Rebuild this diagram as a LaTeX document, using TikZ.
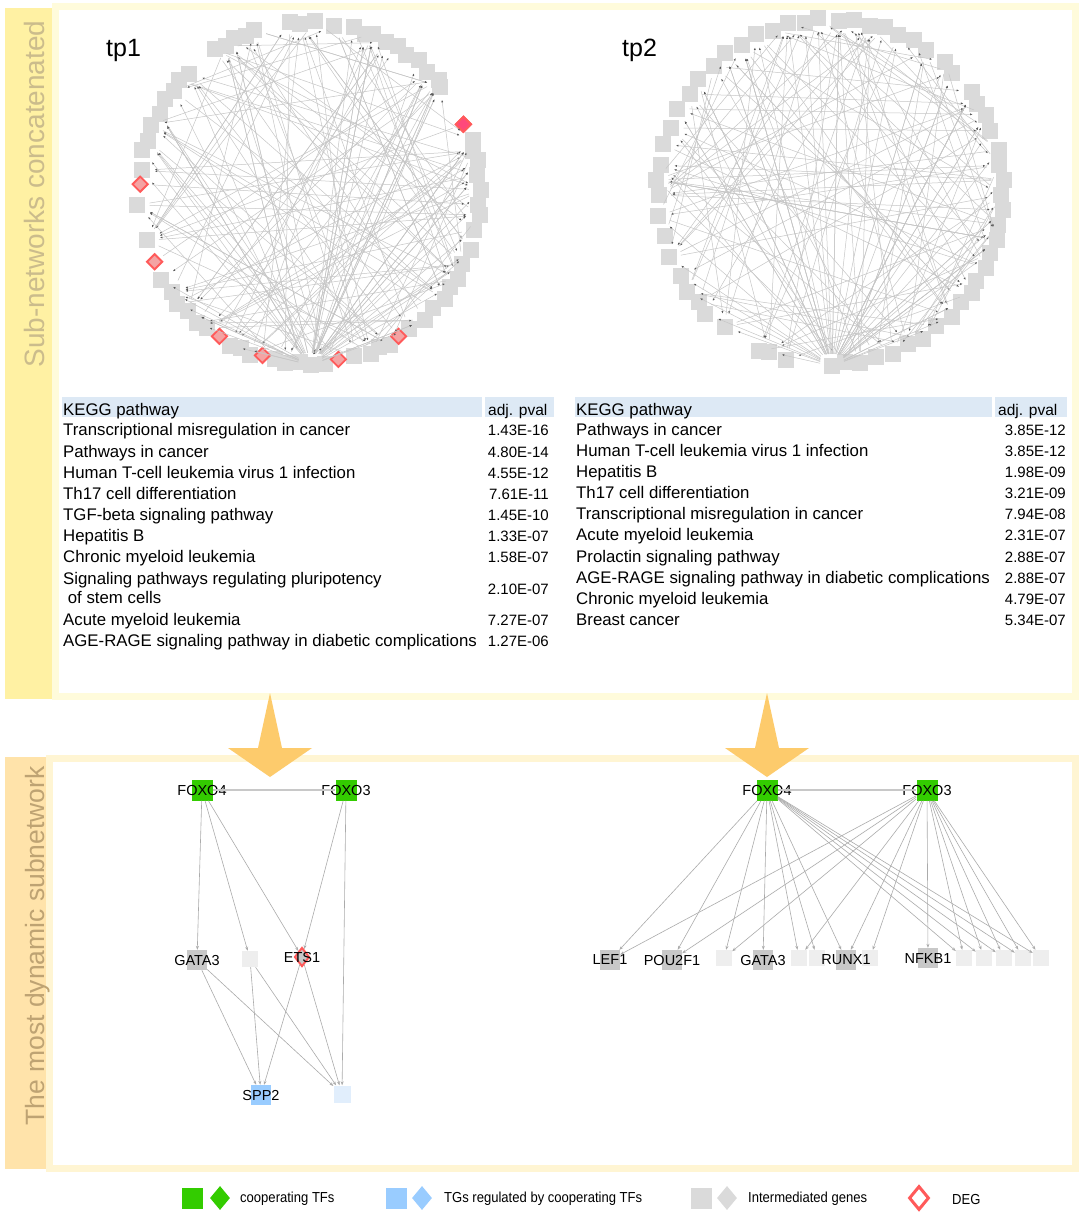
\documentclass[tikz,border=0pt]{standalone}
\usepackage{fontspec}
\setmainfont{Liberation Sans}
\newfontfamily\legendfont[FakeStretch=0.9]{Liberation Sans}
\usetikzlibrary{arrows.meta,shapes.geometric}

\definecolor{tfgreen}{HTML}{33CC00}
\definecolor{tgblue}{HTML}{99CCFF}
\definecolor{tgpale}{HTML}{E1EEFC}
\definecolor{midgray}{HTML}{C8C8C8}
\definecolor{ringgray}{HTML}{DADADA}
\definecolor{blankgray}{HTML}{EEEEEE}
\definecolor{degred}{HTML}{FF5A5A}
\definecolor{degfill}{HTML}{F4A3A3}
\definecolor{hdrblue}{HTML}{DDE9F5}
\definecolor{barA}{HTML}{FFF1A3}
\definecolor{frameA}{HTML}{FFFBDB}
\definecolor{barB}{HTML}{FFE3AA}
\definecolor{frameB}{HTML}{FFF5D3}
\definecolor{sideA}{HTML}{CBBC8C}
\definecolor{sideB}{HTML}{BEA373}
\definecolor{bigarrow}{HTML}{FDCB6C}
\definecolor{linkgray}{HTML}{C6C6C6}
\definecolor{arcgray}{HTML}{ABABAB}

\begin{document}
\begin{tikzpicture}[x=1pt,y=-1pt,
   every node/.style={inner sep=0pt},
   every label/.style={font=\fontsize{14.5}{16}\selectfont, text=black},
   ringsq/.style={rectangle, fill=ringgray, minimum size=16pt},
   ringdeg/.style={diamond, fill=degfill, draw=degred, line width=1.8pt, minimum size=16pt},
   link/.style={linkgray, line width=0.5pt, shorten <=4pt, shorten >=5pt,
                -{Latex[length=2.5pt,width=2pt,color=gray!70!black]}},
   arc/.style={arcgray, line width=0.6pt, -{Stealth[length=4pt,width=3pt]}},
   tfline/.style={midgray, line width=1.5pt},
   tfsq/.style={rectangle, fill=tfgreen, minimum size=21pt},
   tgsq/.style={rectangle, fill=tgblue, minimum size=20pt},
   tgpalesq/.style={rectangle, fill=tgpale, minimum size=17pt},
   midsq/.style={rectangle, fill=midgray, minimum size=20pt},
   blanksq/.style={rectangle, fill=blankgray, minimum size=16pt},
   degdia/.style={diamond, fill=midgray, draw=degred, line width=2pt, minimum width=15pt, minimum height=19pt},
   tplabel/.style={anchor=base west, font=\fontsize{25}{28}\selectfont},
   sidelabel/.style={rotate=90},
   rowtxt/.style={anchor=base west, font=\fontsize{16.8}{18}\selectfont},
   pvtxt/.style={anchor=base east, font=\fontsize{15}{17}\selectfont},
   legtxt/.style={anchor=west, font=\legendfont\fontsize{14.5}{16}\selectfont}]

\fill[white] (0,0) rectangle (1084,1218);
\useasboundingbox (0,0) rectangle (1084,1218);

% panels
\fill[frameA] (52,3) rectangle (1079,700);
\fill[white] (59,10) rectangle (1072,693);
\fill[barA] (5,8) rectangle (52,699);
\node[sidelabel, text=sideA, font=\fontsize{28}{30}\selectfont] (sideA) at (34.5,194) {Sub-networks concatenated};

\fill[frameB] (46,755) rectangle (1079,1172);
\fill[white] (53,762) rectangle (1072,1165);
\fill[barB] (5,757) rectangle (46,1169);
\node[sidelabel, text=sideB, font=\fontsize{26.5}{28}\selectfont] (sideB) at (38,946) {The most dynamic subnetwork};

% tp1 ring
\node[tplabel] (tpA) at (106,56) {tp1};
\coordinate (ca) at (309,193);
\foreach \ang [count=\i] in {263.5,267,272,278.6,285,289.5,292,297,301,305,309.6,314.5,319,321,
    342,345.6,349,354,359,4,7.4,12.5,19.5,24.8,30,33.6,38,43,47.6,53.6,62,65.7,69,74.4,
    84.7,93,98,101.5,110,113.7,117.5,127,130.8,135.5,140,144,149.7,163.7,176,187.7,194.5,
    198,203.4,208,213,217,221,224.8,236.7,240.4,244,248,251.4}{
  \pgfmathsetmacro\rr{169+3*mod(\i,2)}
  \node[ringsq] (a\i) at ([shift={(\ang:\rr)}]ca) {};
}
\node[ringsq] (ahub) at ([shift={(89.5:172)}]ca) {};
\foreach \ang [count=\j] in {336,183,156,122,106,80,58}
  \node[ringdeg] (da\j) at ([shift={(\ang:169)}]ca) {};
\node[ringdeg, fill=degred!80!magenta] at (da1) {};

\pgfmathsetseed{3}
\foreach \k in {1,...,105}{
  \pgfmathrandominteger{\u}{1}{63}
  \pgfmathrandominteger{\w}{10}{53}
  \pgfmathtruncatemacro{\v}{mod(\u+\w-1,63)+1}
  \draw[link] (a\u) -- (a\v);
}
\foreach \k in {1,...,48}{
  \pgfmathrandominteger{\u}{1}{63}
  \ifnum\u>30 \ifnum\u<40 \pgfmathtruncatemacro{\u}{\u-25}\fi\fi
  \draw[link] (ahub) -- (a\u);
}
\foreach \j/\i in {2/20,3/12,4/8,5/2,6/52,7/58,1/48}
  \draw[link] (da\j) -- (a\i);

% tp2 ring
\node[tplabel] (tpB) at (622,56) {tp2};
\coordinate (cb) at (830,192);
\foreach \ang [count=\i] in {256,261.5,266,273,278,283.5,288.5,293.6,299,304,311.5,315.7,324.9,
    329,333.6,339,346,351,356,1,6,11,16,21,26,31.5,35.4,40,45.7,51.7,57.8,63,68.8,74.5,80,85,
    104.8,111,114,128,135.7,140,145,150.5,157.9,165,172,179,184,189,196,202,208.6,215,220.6,
    227.4,232.9,239,245,250.6}{
  \pgfmathsetmacro\rr{171+3*mod(\i,2)}
  \node[ringsq] (b\i) at ([shift={(\ang:\rr)}]cb) {};
}
\node[ringsq] (bhub) at ([shift={(89.3:174)}]cb) {};
\pgfmathsetseed{17}
\foreach \k in {1,...,105}{
  \pgfmathrandominteger{\u}{1}{60}
  \pgfmathrandominteger{\w}{10}{50}
  \pgfmathtruncatemacro{\v}{mod(\u+\w-1,60)+1}
  \draw[link] (b\u) -- (b\v);
}
\foreach \k in {1,...,50}{
  \pgfmathrandominteger{\u}{1}{60}
  \ifnum\u>32 \ifnum\u<38 \pgfmathtruncatemacro{\u}{\u-20}\fi\fi
  \draw[link] (bhub) -- (b\u);
}

% KEGG tables
\fill[hdrblue] (62,397) rectangle (482,417);
\fill[hdrblue] (485,397) rectangle (554,417);
\node[rowtxt] (hA) at (63,415) {KEGG pathway};
\node[rowtxt, font=\fontsize{15.5}{17}\selectfont] (hpA) at (488,415) {adj. pval};
\foreach \y/\txt [count=\i] in {435/Transcriptional misregulation in cancer,
    457/Pathways in cancer, 478/Human T-cell leukemia virus 1 infection,
    499/Th17 cell differentiation, 520/TGF-beta signaling pathway,
    541/Hepatitis B, 562/Chronic myeloid leukemia,
    584/Signaling pathways regulating pluripotency, 603/\ of stem cells,
    625/Acute myeloid leukemia, 646/AGE-RAGE signaling pathway in diabetic complications}
  \node[rowtxt] (ta\i) at (63,\y) {\txt};
\foreach \y/\pv [count=\i] in {435/1.43E-16, 457/4.80E-14, 478/4.55E-12, 499/7.61E-11,
    520/1.45E-10, 541/1.33E-07, 562/1.58E-07, 594/2.10E-07, 625/7.27E-07, 646/1.27E-06}
  \node[pvtxt] (pa\i) at (549,\y) {\pv};

\fill[hdrblue] (575,397) rectangle (992,417);
\fill[hdrblue] (995,397) rectangle (1067,417);
\node[rowtxt] (hB) at (576,415) {KEGG pathway};
\node[rowtxt, font=\fontsize{15.5}{17}\selectfont] (hpB) at (998,415) {adj. pval};
\foreach \y/\txt/\pv [count=\i] in {435/Pathways in cancer/3.85E-12,
    456/Human T-cell leukemia virus 1 infection/3.85E-12,
    477/Hepatitis B/1.98E-09, 498/Th17 cell differentiation/3.21E-09,
    519/Transcriptional misregulation in cancer/7.94E-08,
    540/Acute myeloid leukemia/2.31E-07, 562/Prolactin signaling pathway/2.88E-07,
    583/AGE-RAGE signaling pathway in diabetic complications/2.88E-07,
    604/Chronic myeloid leukemia/4.79E-07, 625/Breast cancer/5.34E-07}{
  \node[rowtxt] (tb\i) at (576,\y) {\txt};
  \node[pvtxt] (pb\i) at (1066,\y) {\pv};
}

% arrows between panels
\fill[bigarrow] (270,693) -- (282,748) -- (312,748) -- (270,777) -- (228,748) -- (258,748) -- cycle;
\fill[bigarrow] (767,693) -- (779,748) -- (809,748) -- (767,777) -- (725,748) -- (755,748) -- cycle;

% most dynamic subnetwork, tp1
\node[blanksq] (lb1) at (250,959) {};
\node[tgpalesq] (lb2) at (342,1094) {};
\node[tfsq, label=center:FOXO4] (lf4) at (202,790) {};
\node[tfsq, label=center:FOXO3] (lf3) at (346,790) {};
\node[midsq, label=center:GATA3] (lga) at (197,960) {};
\node[degdia, label=center:ETS1] (lets) at (302,957) {};
\node[tgsq, label=center:SPP2] (lspp) at (261,1095) {};
\draw[tfline] (lf4) -- (lf3);
\foreach \s/\t in {lf4/lga, lf4/lb1, lf4/lets, lf3/lets, lf3/lb2, lga/lspp, lga/lb2,
    lb1/lspp, lb1/lb2, lets/lspp, lets/lb2}
  \draw[arc] (\s) -- (\t);

% most dynamic subnetwork, tp2
\foreach \n/\x in {rb1/724, rb2/799, rb3/817, rb4/870, rb5/964, rb6/984, rb7/1004, rb8/1023, rb9/1041}
  \node[blanksq] (\n) at (\x,958) {};
\node[tfsq, label=center:FOXO4] (rf4) at (767,790) {};
\node[tfsq, label=center:FOXO3] (rf3) at (927,790) {};
\node[midsq, label=center:LEF1] (rlef) at (610,960) {};
\node[midsq, label=center:POU2F1] (rpou) at (672,960) {};
\node[midsq, label=center:GATA3] (rga) at (763,960) {};
\node[midsq, label=center:RUNX1] (rrun) at (846,960) {};
\node[midsq, label=center:NFKB1] (rnfk) at (928,958) {};
\draw[tfline] (rf4) -- (rf3);
\foreach \t in {rlef, rpou, rb1, rga, rb2, rb3, rrun, rb5, rb6, rb7, rb8, rb9}
  \draw[arc] (rf4) -- (\t);
\foreach \t in {rlef, rpou, rb1, rb2, rrun, rb4, rnfk, rb5, rb6, rb7, rb8, rb9}
  \draw[arc] (rf3) -- (\t);

% legend
\node[rectangle, fill=tfgreen, minimum size=21pt] (lg1) at (192,1198) {};
\node[diamond, fill=tfgreen, minimum width=20pt, minimum height=24pt] (lg2) at (220,1198) {};
\node[legtxt] (lg3) at (240,1199) {cooperating TFs};
\node[rectangle, fill=tgblue, minimum size=21pt] (lg4) at (396,1198) {};
\node[diamond, fill=tgblue, minimum width=20pt, minimum height=24pt] (lg5) at (422,1198) {};
\node[legtxt] (lg6) at (444,1199) {TGs regulated by cooperating TFs};
\node[rectangle, fill=ringgray, minimum size=21pt] (lg7) at (701,1198) {};
\node[diamond, fill=ringgray, minimum width=20pt, minimum height=24pt] (lg8) at (727,1198) {};
\node[legtxt] (lg9) at (748,1199) {Intermediated genes};
\node[diamond, fill=white, draw=degred, line width=3pt, minimum width=20pt, minimum height=24pt] (lg10) at (919,1198) {};
\node[legtxt] (lg11) at (952,1199) {DEG};

\end{tikzpicture}
\end{document}
